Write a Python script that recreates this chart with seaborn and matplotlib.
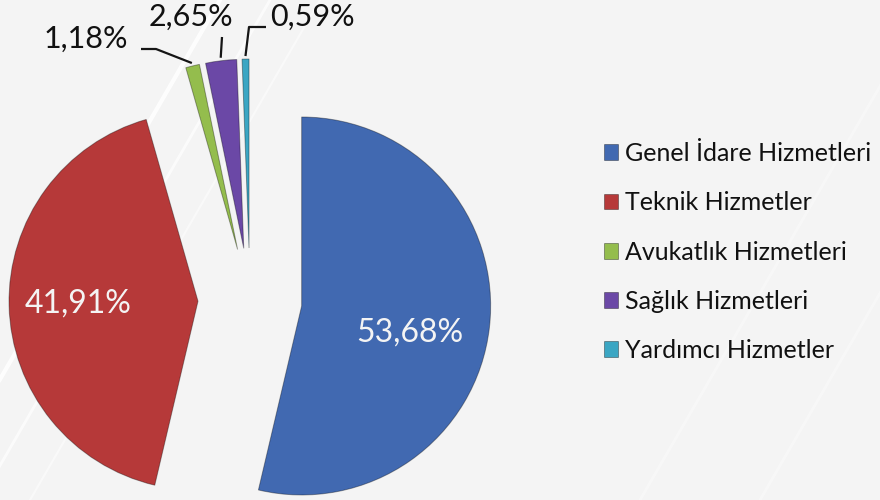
import numpy as np
import matplotlib.pyplot as plt
import seaborn as sns

# data
categories = ["Genel İdare Hizmetleri", "Teknik Hizmetler", "Avukatlık Hizmetleri",
              "Sağlık Hizmetleri", "Yardımcı Hizmetler"]
shares = [53.68, 41.91, 1.18, 2.65, 0.59]
colors = ["#4169b1", "#b63939", "#94bd4d", "#6b48a6", "#3ba6c3"]

# label placement (screen pixels, y measured from top)
label_xy = [(410, 333), (78, 304), (86, 39), (191, 17), (312, 17)]
elbow_xy = [None, None, [(141, 49), (156, 49)], [(222, 37)], [(266, 27), (249, 27)]]

sns.set_theme(style="white")
plt.rcParams['font.family'] = ['Lato', 'DejaVu Sans']

W, H = 880, 500
fig = plt.figure(figsize=(8.8, 5), dpi=100, facecolor="#f4f4f4")
ax = fig.add_axes([0, 0, 1, 1])

# faint diagonal stripes in the background
for x0, lw, a in [(-70, 3, 0.9), (-20, 2, 0.7), (30, 1.5, 0.5), (640, 2, 0.35), (760, 2, 0.35)]:
    ax.plot([x0, x0 + 290], [0, 500], color="white", lw=lw, alpha=a, zorder=0)

wedges, _ = ax.pie(shares, colors=colors, startangle=90, counterclock=False,
                   center=(250, 200), radius=189, explode=[52] * len(shares),
                   wedgeprops=dict(linewidth=0.7, edgecolor=(0, 0, 0, 0.35)))

ax.set_xlim(0, W)
ax.set_ylim(0, H)
ax.set_aspect('equal')
ax.axis('off')


def tip(w, extra=3):
    th = np.deg2rad((w.theta1 + w.theta2) / 2)
    rr = w.r + extra
    return w.center[0] + rr * np.cos(th), w.center[1] + rr * np.sin(th)


for i, (w, v) in enumerate(zip(wedges, shares)):
    txt = f"{v:.2f}%".replace('.', ',')
    x, y = label_xy[i]
    if elbow_xy[i] is None:
        ax.text(x, H - y, txt, color="#f4f4f4", fontsize=23, ha="center", va="center")
    else:
        ax.text(x, H - y, txt, color="#111111", fontsize=22, ha="center", va="center")
        pts = [(px, H - py) for px, py in elbow_xy[i]] + [tip(w)]
        ax.plot(*zip(*pts), color="#151515", lw=1.6, solid_capstyle="butt")

ax.legend(wedges, categories, loc="center left", bbox_to_anchor=(604 / W, 1 - 252 / H),
          frameon=False, fontsize=18, handlelength=0.55, handleheight=0.6,
          handletextpad=0.3, labelspacing=1.05, borderpad=0, borderaxespad=0,
          labelcolor="#111111")

fig.savefig("out.png", dpi=100, facecolor=fig.get_facecolor())
